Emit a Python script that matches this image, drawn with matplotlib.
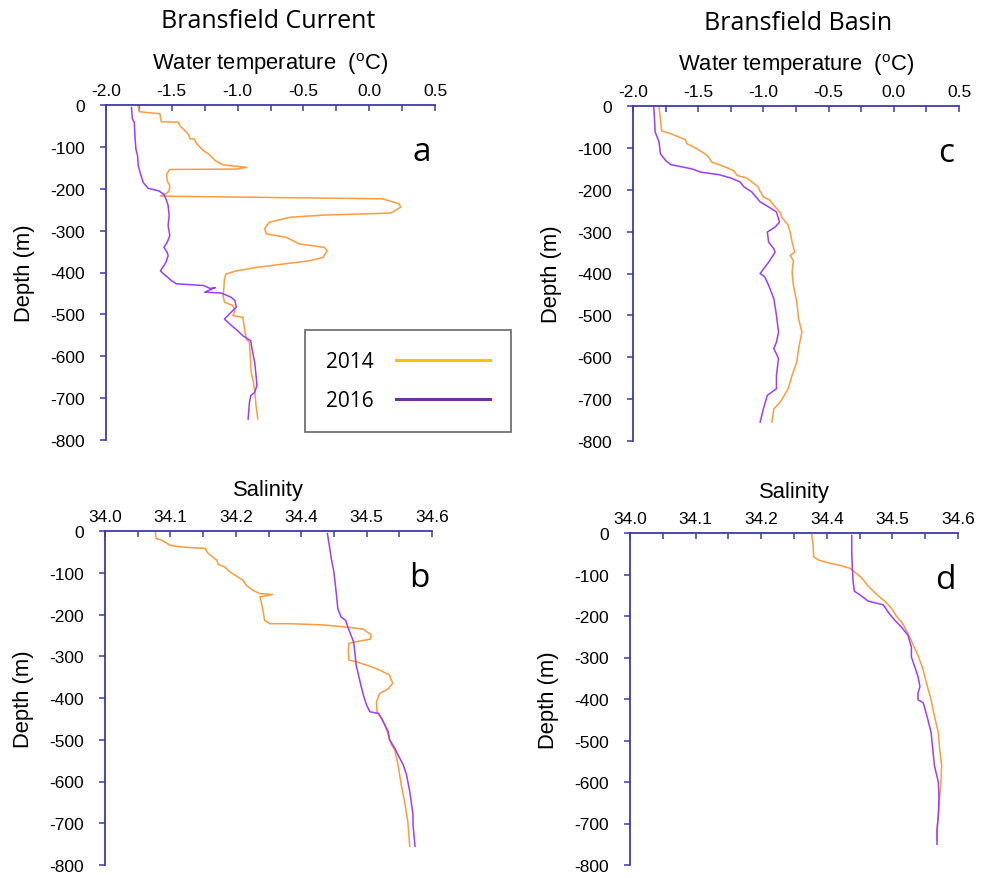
import matplotlib
matplotlib.use("Agg")
import matplotlib.pyplot as plt
from matplotlib.lines import Line2D

plt.rcParams['font.family'] = ['Liberation Sans', 'DejaVu Sans']
plt.rcParams['mathtext.fontset'] = 'custom'
plt.rcParams['mathtext.rm'] = 'Liberation Sans'

# ---- Bransfield Current: temperature profiles ----
cur_t14_temp = [-1.755, -1.747, -1.59, -1.58, -1.45, -1.44, -1.376, -1.36, -1.33, -1.31, -1.26, -1.22,
                -1.17, -1.11, -0.93, -1.01, -1.515, -1.54, -1.535, -1.515, -1.52, -1.54, -1.586, -1.50,
                0.10, 0.227, 0.24, 0.164, -0.35, -0.60, -0.76, -0.795, -0.78, -0.63, -0.53, -0.43,
                -0.34, -0.32, -0.35, -0.455, -0.66, -0.86, -1.01, -1.09, -1.10, -1.105, -1.11, -1.10,
                -1.035, -1.02, -1.035, -0.96, -0.947, -0.934, -0.91, -0.904, -0.897, -0.88, -0.866,
                -0.86, -0.846]
cur_t14_depth = [-3, -16, -21, -40, -41, -49, -69, -81, -81, -93, -109, -117,
                 -133, -143, -149, -153, -154, -165, -181, -193, -205, -211, -217, -218,
                 -224, -236, -244, -258, -263, -268, -280, -296, -308, -316, -332, -336,
                 -340, -348, -364, -372, -380, -388, -396, -404, -416, -439, -455, -471,
                 -479, -491, -503, -507, -535, -559, -567, -599, -638, -662, -694,
                 -718, -750]

cur_t16_temp = [-1.806, -1.80, -1.785, -1.78, -1.773, -1.76, -1.755, -1.737, -1.717, -1.68, -1.60,
                -1.56, -1.545, -1.528, -1.52, -1.528, -1.515, -1.535, -1.56, -1.535, -1.528, -1.545,
                -1.586, -1.56, -1.50, -1.465, -1.26, -1.21, -1.17, -1.25, -1.124, -1.05, -1.02,
                -1.01, -1.05, -1.10, -1.06, -1.00, -0.96, -0.90, -0.89, -0.87, -0.86, -0.853,
                -0.87, -0.90, -0.91, -0.92]
cur_t16_depth = [-6, -33, -41, -73, -105, -121, -145, -165, -185, -199, -205,
                 -213, -224, -240, -264, -288, -312, -328, -340, -352, -360, -376,
                 -396, -404, -420, -427, -431, -438, -436, -447, -449, -459, -467,
                 -483, -495, -511, -523, -539, -551, -563, -583, -615, -646, -670,
                 -686, -694, -710, -750]

# ---- Bransfield Basin: temperature profiles ----
bas_t14_temp = [-1.80, -1.79, -1.78, -1.71, -1.65, -1.60, -1.586, -1.51, -1.43, -1.395, -1.29,
                -1.23, -1.20, -1.127, -1.09, -1.04, -1.03, -1.00, -0.95, -0.92, -0.87, -0.86,
                -0.83, -0.81, -0.795, -0.78, -0.76, -0.795, -0.77, -0.78, -0.77, -0.744, -0.73,
                -0.705, -0.73, -0.744, -0.78, -0.81, -0.87, -0.92, -0.935]
bas_t14_depth = [-4, -30, -60, -66, -74, -80, -90, -102, -118, -134, -146,
                 -154, -166, -172, -181, -193, -201, -217, -225, -237, -255, -265,
                 -277, -285, -301, -325, -349, -357, -369, -396, -428, -468, -508,
                 -540, -579, -611, -643, -675, -707, -723, -755]

bas_t16_temp = [-1.84, -1.834, -1.83, -1.80, -1.79, -1.75, -1.71, -1.55, -1.48, -1.34, -1.25,
                -1.18, -1.15, -1.09, -1.025, -0.96, -0.90, -0.876, -0.91, -0.97, -0.96, -0.92,
                -0.91, -0.96, -1.025, -0.99, -0.96, -0.92, -0.90, -0.884, -0.90, -0.92, -0.884,
                -0.90, -0.90, -0.97, -1.00, -1.025]
bas_t16_depth = [-4, -38, -62, -86, -114, -130, -140, -150, -158, -164, -172,
                 -181, -193, -205, -229, -241, -253, -277, -289, -301, -325, -341,
                 -349, -373, -400, -408, -428, -460, -500, -540, -564, -579, -603,
                 -643, -675, -691, -723, -755]

# ---- Bransfield Current: salinity profiles ----
cur_s14_sal = [34.077, 34.078, 34.087, 34.099, 34.115, 34.153, 34.158, 34.171, 34.173, 34.183,
               34.191, 34.201, 34.211, 34.216, 34.226, 34.237, 34.256, 34.237, 34.239, 34.242,
               34.244, 34.252, 34.283, 34.334, 34.374, 34.395, 34.407, 34.406, 34.384, 34.373,
               34.372, 34.373, 34.384, 34.407, 34.42, 34.435, 34.44, 34.433, 34.42, 34.415,
               34.416, 34.42, 34.428, 34.433, 34.438, 34.443, 34.448, 34.453, 34.458, 34.463,
               34.466]
cur_s14_depth = [0, -18, -22, -34, -38, -42, -54, -70, -80, -86,
                 -98, -108, -118, -130, -142, -150, -152, -158, -170, -194,
                 -214, -222, -222, -225, -231, -235, -249, -259, -265, -269,
                 -285, -309, -313, -325, -333, -345, -365, -378, -389, -409,
                 -433, -441, -465, -488, -512, -524, -560, -608, -648, -696,
                 -755]

cur_s16_sal = [34.34, 34.343, 34.346, 34.35, 34.354, 34.356, 34.361, 34.368, 34.372, 34.376,
               34.38, 34.382, 34.384, 34.39, 34.395, 34.40, 34.405, 34.418, 34.423, 34.428,
               34.433, 34.435, 34.443, 34.448, 34.456, 34.461, 34.466, 34.471, 34.471, 34.474]
cur_s16_depth = [-6, -34, -66, -98, -154, -186, -206, -214, -233, -249,
                 -265, -289, -321, -361, -393, -417, -433, -437, -449, -465,
                 -480, -500, -520, -536, -560, -584, -624, -680, -704, -755]

# ---- Bransfield Basin: salinity profiles ----
bas_s14_sal = [34.277, 34.279, 34.28, 34.287, 34.30, 34.32, 34.335, 34.345, 34.353, 34.363,
               34.376, 34.388, 34.398, 34.406, 34.416, 34.424, 34.431, 34.439, 34.447, 34.452,
               34.459, 34.464, 34.47, 34.472, 34.475, 34.474, 34.472, 34.47, 34.468, 34.468]
bas_s14_depth = [-3, -29, -57, -65, -71, -78, -85, -97, -108, -128,
                 -148, -164, -180, -200, -219, -243, -267, -295, -330, -362,
                 -402, -441, -481, -520, -560, -600, -639, -679, -718, -740]

bas_s16_sal = [34.338, 34.338, 34.339, 34.34, 34.342, 34.353, 34.363, 34.373, 34.386, 34.396,
               34.404, 34.414, 34.424, 34.426, 34.429, 34.429, 34.434, 34.439, 34.442, 34.439,
               34.439, 34.447, 34.454, 34.459, 34.462, 34.464, 34.47, 34.471, 34.47, 34.468,
               34.468]
bas_s16_depth = [-6, -45, -85, -116, -140, -152, -164, -168, -173, -196,
                 -211, -227, -247, -259, -275, -299, -322, -346, -370, -386,
                 -402, -409, -449, -481, -528, -560, -600, -639, -679, -718,
                 -750]

# ---- axis ticks ----
temp_ticks = [-2.0, -1.75, -1.5, -1.25, -1.0, -0.75, -0.5, -0.25, 0.0, 0.25, 0.5]
temp_tick_labels = ["-2.0", "", "-1.5", "", "-1.0", "", "-0.5", "", "0.0", "", "0.5"]
sal_ticks = [34.0, 34.05, 34.1, 34.15, 34.2, 34.25, 34.3, 34.35, 34.4, 34.45, 34.5]
sal_tick_labels = ["34.0", "", "34.1", "", "34.2", "", "34.4", "", "34.5", "", "34.6"]
depth_ticks = [0, -100, -200, -300, -400, -500, -600, -700, -800]
depth_tick_labels = ["0", "-100", "-200", "-300", "-400", "-500", "-600", "-700", "-800"]

years = ["2014", "2016"]
line_colors = ["#FF9A3D", "#9B3DFF"]
legend_colors = ["#FFC000", "#7030A0"]
axis_color = "#3A3AAE"

W, H = 989, 879
fig = plt.figure(figsize=(W / 100, H / 100), dpi=100)


def px_axes(left, top, right, bottom):
    return fig.add_axes([left / W, 1 - bottom / H, (right - left) / W, (bottom - top) / H])


def style(ax, ticks, labels, xlim, xlabel, letter):
    ax.set_xlim(*xlim)
    ax.set_ylim(-800, 0)
    for s in ("bottom", "right"):
        ax.spines[s].set_visible(False)
    for s in ("top", "left"):
        ax.spines[s].set_color(axis_color)
        ax.spines[s].set_linewidth(1.3)
    ax.xaxis.tick_top()
    ax.set_xticks(ticks)
    ax.set_xticklabels(labels)
    ax.set_yticks(depth_ticks)
    ax.set_yticklabels(depth_tick_labels)
    ax.tick_params(axis="x", direction="in", length=4, width=1.1, color=axis_color,
                   labelsize=12.5, pad=5)
    ax.tick_params(axis="y", direction="out", length=4, width=1.1, color=axis_color,
                   labelsize=12.5, pad=11)
    ax.annotate(xlabel, xy=(0.5, 1), xycoords="axes fraction", xytext=(0, 30),
                textcoords="offset points", ha="center", va="center", fontsize=15.8)
    ax.annotate("Depth (m)", xy=(0, 0.5), xycoords="axes fraction", xytext=(-59, 0),
                textcoords="offset points", ha="center", va="center", rotation=90,
                fontsize=15.8)
    ax.text(0.96, 0.86, letter, transform=ax.transAxes, ha="center", va="center",
            fontsize=24, family="Open Sans")


temp_label = r"Water temperature  ($^{\mathrm{o}}$C)"

ax_a = px_axes(106, 106, 435, 441)
ax_a.plot(cur_t14_temp, cur_t14_depth, color=line_colors[0], lw=1.1)
ax_a.plot(cur_t16_temp, cur_t16_depth, color=line_colors[1], lw=1.1)
style(ax_a, temp_ticks, temp_tick_labels, (-2.0, 0.5), temp_label, "a")

ax_c = px_axes(633, 107, 959, 442)
ax_c.plot(bas_t14_temp, bas_t14_depth, color=line_colors[0], lw=1.1)
ax_c.plot(bas_t16_temp, bas_t16_depth, color=line_colors[1], lw=1.1)
style(ax_c, temp_ticks, temp_tick_labels, (-2.0, 0.5), temp_label, "c")

ax_b = px_axes(105, 532, 432, 866)
ax_b.plot(cur_s14_sal, cur_s14_depth, color=line_colors[0], lw=1.1)
ax_b.plot(cur_s16_sal, cur_s16_depth, color=line_colors[1], lw=1.1)
style(ax_b, sal_ticks, sal_tick_labels, (34.0, 34.5), "Salinity", "b")

ax_d = px_axes(630, 534, 958, 866)
ax_d.plot(bas_s14_sal, bas_s14_depth, color=line_colors[0], lw=1.1)
ax_d.plot(bas_s16_sal, bas_s16_depth, color=line_colors[1], lw=1.1)
style(ax_d, sal_ticks, sal_tick_labels, (34.0, 34.5), "Salinity", "d")

fig.text(268 / W, 1 - 22 / H, "Bransfield Current", ha="center", va="center",
         fontsize=18, family="Open Sans")
fig.text(798 / W, 1 - 23 / H, "Bransfield Basin", ha="center", va="center",
         fontsize=18, family="Open Sans")

handles = [Line2D([], [], color=c, lw=2.2) for c in legend_colors]
leg = fig.legend(handles, years, loc="center", bbox_to_anchor=(408 / W, 1 - 382 / H),
                 markerfirst=False, frameon=True, fancybox=False, handlelength=4.5,
                 handletextpad=1.1, borderpad=1.0, labelspacing=0.85,
                 prop={"family": "Open Sans", "size": 15})
leg.get_frame().set_edgecolor("#404040")
leg.get_frame().set_linewidth(1.2)

fig.savefig("out.png", dpi=100)
